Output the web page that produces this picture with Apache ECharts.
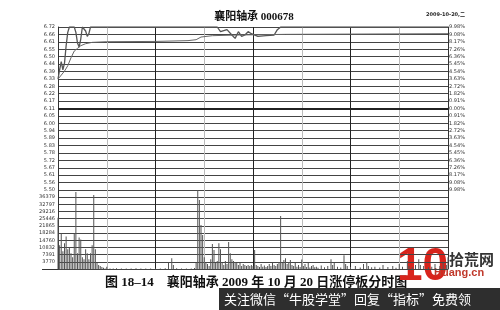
<!DOCTYPE html>
<html><head><meta charset="utf-8">
<script src="https://cdn.jsdelivr.net/npm/echarts@6/dist/echarts.min.js"></script>
<style>html,body{margin:0;padding:0;background:#fff}#c{width:500px;height:310px}</style>
</head><body><div id="c"></div>
<script>
// ---- tick labels ----
const priceLabels = ["5.50","5.56","5.61","5.67","5.72","5.78","5.83","5.89","5.94","6.00","6.05","6.11","6.17","6.22","6.28","6.33","6.39","6.44","6.50","6.55","6.61","6.66","6.72"];
const pctLabels = ["9.98%","9.08%","8.17%","7.26%","6.36%","5.45%","4.54%","3.63%","2.72%","1.82%","0.91%","0.00%","0.91%","1.82%","2.72%","3.63%","4.54%","5.45%","6.36%","7.26%","8.17%","9.08%","9.98%"];
const volLabels = ["","3770","7391","10832","14760","18284","21865","25446","29216","32797","36379",""];
const prevClose = 6.11;
// ---- price line: [minute from 9:30, price] ----
const pricePoints = [[0,6.33],[1,6.40],[2,6.46],[3,6.40],[4,6.45],[5,6.58],[6,6.68],[7,6.72],[10,6.72],[11,6.68],[12,6.60],[13,6.57],[14,6.63],[15,6.72],[16,6.72],[17,6.69],[18,6.65],[19,6.67],[20,6.72],[21,6.72],[98,6.72],[100,6.685],[104,6.70],[107,6.66],[109,6.635],[111,6.685],[113,6.65],[115,6.66],[117,6.685],[119,6.67],[120,6.66],[123,6.65],[128,6.655],[133,6.66],[135,6.70],[137,6.72],[240,6.72]];
// ---- average price line ----
const avgPoints = [[0,6.33],[2,6.36],[4,6.39],[6,6.43],[8,6.49],[10,6.54],[12,6.56],[14,6.58],[17,6.595],[21,6.605],[30,6.61],[60,6.612],[80,6.618],[85,6.625],[88,6.645],[95,6.655],[110,6.66],[140,6.665],[240,6.67]];
// ---- volume: [minute, volume] ----
const volumePoints = [[0,26000],[1,12000],[2,18000],[3,9000],[4,13000],[5,16500],[6,10000],[7,11000],[8,8000],[9,6000],[10,18000],[11,39000],[12,8000],[13,16000],[14,15000],[15,6000],[16,5000],[17,10000],[18,8000],[19,5000],[20,8000],[21,12000],[22,37500],[23,10000],[24,3000],[25,2000],[26,1500],[27,1000],[28,600],[29,300],[30,1200],
[32,300],[34,200],[36,400],[39,250],[42,300],[45,200],[48,350],[51,250],[54,300],[57,200],[60,300],[63,250],[66,400],[68,3000],[70,5500],[71,2000],[73,400],[76,300],[79,250],[82,300],[84,500],
[85,3000],[86,40000],[87,35000],[88,22300],[89,17200],[90,6000],[91,3000],[92,2500],[93,1500],[94,5000],[95,12700],[96,9600],[97,3000],[98,4000],[99,13000],[100,10000],[101,3000],[102,2000],[103,4000],[104,2500],[105,13700],[106,8000],[107,5000],[108,4000],[109,3500],[110,3000],[111,2000],[112,3000],[113,1500],[114,2500],[115,2000],[116,1500],[117,2000],[118,1500],[119,2000],[120,1500],[121,9600],[122,2000],[123,1500],[124,1000],[125,2500],[126,1200],[127,1800],[128,1000],[129,1500],[130,2500],[131,1500],[132,3000],[133,2000],[134,1500],[135,2500],[136,3500],[137,26800],
[138,3000],[139,4500],[140,5500],[141,2500],[142,3500],[143,4500],[144,2000],[145,1500],[146,3000],[147,1200],[148,2000],[149,1000],[150,4800],[151,1500],[152,2500],[153,1000],[154,3000],[155,800],[156,1500],[157,2000],[158,900],[159,1200],[160,600],[162,1800],[164,900],[166,1500],[168,5000],[169,2000],[170,3000],[172,1200],[174,800],[176,7000],[177,2500],[178,1500],[180,1000],[183,1500],[186,800],[188,2500],[190,3500],[191,1500],[193,900],[195,1200],[198,800],[200,2000],[203,1000],[206,1500],[208,600],[210,2500],[212,1200],[215,4000],[216,1500],[218,1000],[220,2000],[222,5000],[223,2000],[225,1500],[228,900],[230,1200],[232,2500],[235,1500],[237,3000],[239,2000],[240,6000]];

const PMIN = 5.50, PMAX = 6.72, PSTEP = (PMAX - PMIN) / 22;
const VSTEP = 3638, VMAX = VSTEP * 11;
const labFont = {fontSize: 5, color: '#333', fontFamily: 'DejaVu Sans'};
const gridL = 58, gridR = 52;

function xAx(i) {
  return {type: 'value', gridIndex: i, min: 0, max: 240, interval: 30,
    axisLabel: {show: false}, axisTick: {show: false}, axisLine: {show: false},
    splitLine: {show: true, lineStyle: {color: ['#222', '#bbb'], width: 1}}};
}
const chart = echarts.init(document.getElementById('c'), null, {renderer: 'canvas'});
chart.setOption({
  animation: false,
  backgroundColor: '#fff',
  grid: [
    {left: gridL, right: gridR, top: 27, height: 163},
    {left: gridL, right: gridR, top: 190, height: 79}
  ],
  xAxis: [xAx(0), xAx(1)],
  yAxis: [
    {type: 'value', gridIndex: 0, min: PMIN, max: PMAX, interval: PSTEP, position: 'left',
     axisLine: {show: true, lineStyle: {color: '#333', width: 1}}, axisTick: {show: false},
     axisLabel: Object.assign({margin: 3, formatter: v => priceLabels[Math.round((v - PMIN) / PSTEP)] || ''}, labFont),
     splitLine: {show: true, lineStyle: {color: '#444', width: 1}}},
    {type: 'value', gridIndex: 0, min: PMIN, max: PMAX, interval: PSTEP, position: 'right',
     axisLine: {show: true, lineStyle: {color: '#333', width: 1}}, axisTick: {show: false},
     axisLabel: Object.assign({margin: 1, formatter: v => pctLabels[Math.round((v - PMIN) / PSTEP)] || ''}, labFont),
     splitLine: {show: false}},
    {type: 'value', gridIndex: 1, min: 0, max: VMAX, interval: VSTEP, position: 'left',
     axisLine: {show: true, lineStyle: {color: '#333', width: 1}}, axisTick: {show: false},
     axisLabel: Object.assign({margin: 3, formatter: v => volLabels[Math.round(v / VSTEP)] || ''}, labFont),
     splitLine: {show: true, lineStyle: {color: '#444', width: 1}}},
    {type: 'value', gridIndex: 1, min: 0, max: VMAX, interval: VSTEP, position: 'right',
     axisLine: {show: true, lineStyle: {color: '#333', width: 1}}, axisTick: {show: false},
     axisLabel: {show: false}, splitLine: {show: false}}
  ],
  series: [
    {type: 'line', xAxisIndex: 0, yAxisIndex: 0, data: pricePoints, showSymbol: false,
     lineStyle: {color: '#555', width: 1.3},
     markLine: {silent: true, symbol: 'none', label: {show: false},
       lineStyle: {color: '#222', width: 2, type: 'solid'}, data: [{yAxis: prevClose}]}},
    {type: 'line', xAxisIndex: 0, yAxisIndex: 0, data: avgPoints, showSymbol: false,
     lineStyle: {color: '#666', width: 1}},
    {type: 'bar', xAxisIndex: 1, yAxisIndex: 2, data: volumePoints, barWidth: 1,
     itemStyle: {color: '#555'}}
  ],
  graphic: [
    {type: 'text', x: 254, y: 17, style: {text: '襄阳轴承 000678', textAlign: 'center', textVerticalAlign: 'middle',
      font: 'bold 11px "Liberation Serif", "Noto Sans CJK SC"', fill: '#111'}},
    {type: 'text', x: 465, y: 15, style: {text: '2009-10-20,二', textAlign: 'right', textVerticalAlign: 'middle',
      font: 'bold 5px "DejaVu Sans", "Noto Sans CJK SC"', fill: '#222'}},
    {type: 'line', shape: {x1: 42, y1: 269.5, x2: 58, y2: 269.5}, style: {stroke: '#333', lineWidth: 1}},
    {type: 'text', x: 105, y: 283, style: {text: '图 18–14    襄阳轴承 2009 年 10 月 20 日涨停板分时图', textVerticalAlign: 'middle',
      font: 'bold 13px "Liberation Serif", "Noto Sans CJK SC"', fill: '#111'}},
    {type: 'text', x: 397, y: 267, style: {text: '10', textVerticalAlign: 'middle',
      font: 'bold 46px "Liberation Sans"', fill: '#d8241c'}},
    {type: 'text', x: 449, y: 259, style: {text: '拾荒网', textVerticalAlign: 'middle',
      font: 'bold 15px "Noto Sans CJK SC"', fill: '#333'}},
    {type: 'text', x: 434, y: 273, style: {text: 'Huang.cn', textVerticalAlign: 'middle',
      font: 'bold 11px "Liberation Sans"', fill: '#c0392b'}},
    {type: 'rect', shape: {x: 219, y: 288, width: 281, height: 22}, style: {fill: '#2e2e2e'}},
    {type: 'text', x: 224, y: 299, style: {text: '关注微信“牛股学堂”回复“指标”免费领', textVerticalAlign: 'middle',
      font: '13px "Noto Sans CJK SC"', fill: '#fff'}}
  ]
});
</script></body></html>
